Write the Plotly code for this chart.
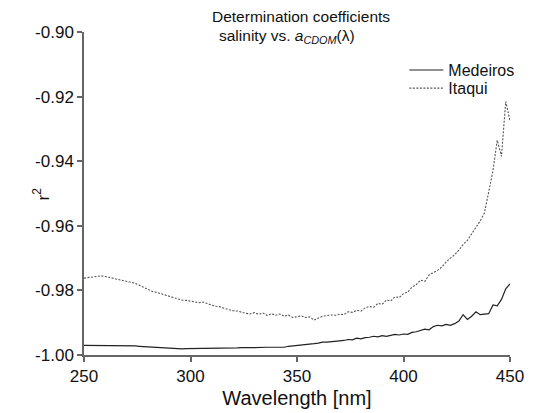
import plotly.graph_objects as go

wavelength = list(range(250, 451, 2))

itaqui = [
    -0.9762, -0.9760, -0.9758, -0.9756, -0.9755, -0.9757, -0.9760, -0.9763, -0.9766, -0.9768,
    -0.9770, -0.9773, -0.9778, -0.9784, -0.9790, -0.9797, -0.9803, -0.9806, -0.9810, -0.9813,
    -0.9817, -0.9822, -0.9826, -0.9830, -0.9831, -0.9834, -0.9836, -0.9838, -0.9836, -0.9842,
    -0.9846, -0.9849, -0.9851, -0.9856, -0.9860, -0.9863, -0.9864, -0.9868, -0.9871, -0.9873,
    -0.9869, -0.9874, -0.9870, -0.9878, -0.9872, -0.9877, -0.9873, -0.9880, -0.9876, -0.9884,
    -0.9882, -0.9879, -0.9884, -0.9882, -0.9892, -0.9886, -0.9880, -0.9878, -0.9876, -0.9877,
    -0.9874, -0.9875, -0.9866, -0.9868, -0.9862, -0.9864, -0.9854, -0.9850, -0.9852, -0.9840,
    -0.9843, -0.9830, -0.9833, -0.9820, -0.9822, -0.9810, -0.9805, -0.9790, -0.9782, -0.9768,
    -0.9772, -0.9752, -0.9745, -0.9738, -0.9728, -0.9712, -0.9700, -0.9690, -0.9675, -0.9658,
    -0.9645, -0.9625, -0.9602, -0.9585, -0.9560, -0.9500, -0.9430, -0.9335, -0.9385, -0.9215,
    -0.9275,
]

medeiros = [
    -0.9970, -0.9970, -0.9970, -0.9970, -0.9971, -0.9971, -0.9971, -0.9971, -0.9972, -0.9972,
    -0.9972, -0.9972, -0.9972, -0.9973, -0.9974, -0.9975, -0.9976, -0.9977, -0.9978, -0.9978,
    -0.9979, -0.9980, -0.9981, -0.9981, -0.9980, -0.9980, -0.9980, -0.9980, -0.9979, -0.9980,
    -0.9979, -0.9979, -0.9979, -0.9978, -0.9979, -0.9978, -0.9978, -0.9977, -0.9978, -0.9977,
    -0.9977, -0.9976, -0.9977, -0.9976, -0.9976, -0.9976, -0.9977, -0.9976, -0.9973, -0.9972,
    -0.9970, -0.9969, -0.9968, -0.9966, -0.9965, -0.9963, -0.9960, -0.9960, -0.9958, -0.9957,
    -0.9956, -0.9955, -0.9952, -0.9953, -0.9948, -0.9950, -0.9946, -0.9945, -0.9942, -0.9944,
    -0.9940, -0.9942, -0.9938, -0.9936, -0.9938, -0.9935, -0.9936, -0.9930, -0.9928, -0.9925,
    -0.9920, -0.9922, -0.9912, -0.9908, -0.9910, -0.9905, -0.9908, -0.9903, -0.9895, -0.9875,
    -0.9890, -0.9880, -0.9866, -0.9875, -0.9873, -0.9872, -0.9845, -0.9848, -0.9828, -0.9795,
    -0.9780,
]

x_ticks = [250, 300, 350, 400, 450]
y_ticks = [-1.00, -0.98, -0.96, -0.94, -0.92, -0.90]
y_labels = ["-1.00", "-0.98", "-0.96", "-0.94", "-0.92", "-0.90"]

FONT = "Liberation Sans, Arial, sans-serif"

fig = go.Figure()
fig.add_trace(go.Scatter(x=wavelength, y=medeiros, mode="lines", name="Medeiros",
                         legend="legend",
                         line=dict(color="#222222", width=1.2)))
fig.add_trace(go.Scatter(x=wavelength, y=itaqui, mode="lines", name="Itaqui",
                         legend="legend2",
                         line=dict(color="#555555", width=1.1, dash="2px,1.5px")))

leg_common = dict(xanchor="left", yanchor="middle", font=dict(size=16, family=FONT),
                  bgcolor="rgba(0,0,0,0)", itemwidth=34)

fig.update_layout(
    width=527, height=405,
    margin=dict(l=76, r=25, t=24, b=58, autoexpand=False),
    paper_bgcolor="white", plot_bgcolor="white",
    font=dict(family=FONT, color="#111111"),
    showlegend=True,
    legend=dict(x=0.752, y=0.882, **leg_common),
    legend2=dict(x=0.752, y=0.826, **leg_common),
    xaxis=dict(range=[250, 450], tickvals=x_ticks, showgrid=False, zeroline=False,
               showline=True, linecolor="#666666", linewidth=1.5, automargin=False,
               ticks="outside", ticklen=5, tickcolor="#666666", tickwidth=1.5,
               tickfont=dict(size=17, family=FONT),
               title=dict(text="Wavelength [nm]", font=dict(size=20, family=FONT), standoff=6)),
    yaxis=dict(range=[-1.0, -0.9], tickvals=y_ticks, ticktext=y_labels, showgrid=False,
               zeroline=False, showline=True, linecolor="#666666", linewidth=1.5, automargin=False,
               ticks="outside", ticklen=5, tickcolor="#666666", tickwidth=1.5,
               tickfont=dict(size=17, family=FONT)),
    annotations=[
        dict(text="Determination coefficients", xref="paper", yref="paper",
             x=0.509, y=1.048, xanchor="center", yanchor="middle", showarrow=False,
             font=dict(size=15.5, family=FONT)),
        dict(text="salinity vs. <i>a</i><sub><i>CDOM</i></sub>(λ)", xref="paper", yref="paper",
             x=0.476, y=0.985, xanchor="center", yanchor="middle", showarrow=False,
             font=dict(size=15.5, family=FONT)),
        dict(text="r<sup>2</sup>", xref="paper", yref="paper", x=-0.101, y=0.5,
             xanchor="center", yanchor="middle", textangle=-90, showarrow=False,
             font=dict(size=17, family=FONT)),
    ],
)

fig.write_html("out.html")
